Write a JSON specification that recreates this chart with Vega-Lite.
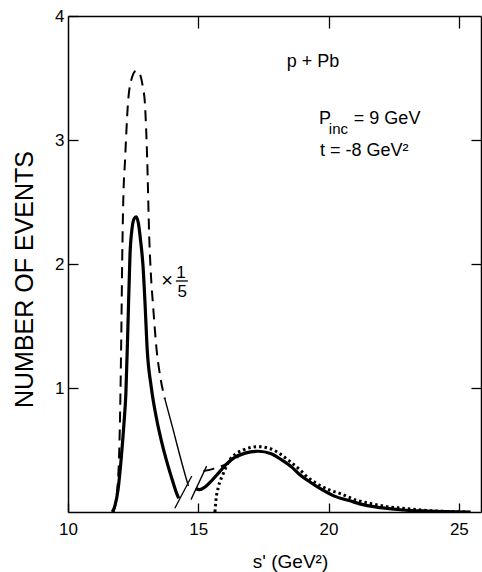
{
  "$schema": "https://vega.github.io/schema/vega-lite/v6.json",
  "width": 413,
  "height": 496,
  "autosize": {"type": "none"},
  "padding": {"left": 68, "top": 16, "right": 1, "bottom": 60},
  "background": "white",
  "config": {
    "view": {"stroke": null},
    "font": "Liberation Sans",
    "axis": {"grid": false, "domainColor": "black", "domainWidth": 1.5, "tickColor": "black", "tickWidth": 1.3, "labelColor": "black", "titleColor": "black", "labelFont": "Liberation Sans", "titleFont": "Liberation Sans", "labelFontWeight": "normal", "titleFontWeight": "normal"}
  },
  "datasets": {
    "curves": [
      {"series": "solid1", "x": 11.70, "y": 0.0},
      {"series": "solid1", "x": 11.80, "y": 0.05},
      {"series": "solid1", "x": 11.92, "y": 0.18},
      {"series": "solid1", "x": 12.05, "y": 0.45},
      {"series": "solid1", "x": 12.15, "y": 0.72},
      {"series": "solid1", "x": 12.22, "y": 0.95},
      {"series": "solid1", "x": 12.30, "y": 1.5},
      {"series": "solid1", "x": 12.38, "y": 2.08},
      {"series": "solid1", "x": 12.46, "y": 2.29},
      {"series": "solid1", "x": 12.55, "y": 2.37},
      {"series": "solid1", "x": 12.62, "y": 2.38},
      {"series": "solid1", "x": 12.70, "y": 2.33},
      {"series": "solid1", "x": 12.78, "y": 2.2},
      {"series": "solid1", "x": 12.88, "y": 1.98},
      {"series": "solid1", "x": 12.95, "y": 1.71},
      {"series": "solid1", "x": 13.04, "y": 1.31},
      {"series": "solid1", "x": 13.20, "y": 1.0},
      {"series": "solid1", "x": 13.40, "y": 0.75},
      {"series": "solid1", "x": 13.60, "y": 0.56},
      {"series": "solid1", "x": 13.80, "y": 0.40},
      {"series": "solid1", "x": 14.00, "y": 0.26},
      {"series": "solid1", "x": 14.17, "y": 0.15},
      {"series": "solid1", "x": 14.25, "y": 0.11},
      {"series": "dash1", "x": 11.75, "y": 0.0},
      {"series": "dash1", "x": 11.92, "y": 0.26},
      {"series": "dash1", "x": 12.00, "y": 0.8},
      {"series": "dash1", "x": 12.05, "y": 1.5},
      {"series": "dash1", "x": 12.08, "y": 2.03},
      {"series": "dash1", "x": 12.12, "y": 2.5},
      {"series": "dash1", "x": 12.19, "y": 2.84},
      {"series": "dash1", "x": 12.31, "y": 3.32},
      {"series": "dash1", "x": 12.45, "y": 3.50},
      {"series": "dash1", "x": 12.62, "y": 3.56},
      {"series": "dash1", "x": 12.76, "y": 3.53},
      {"series": "dash1", "x": 12.87, "y": 3.43},
      {"series": "dash1", "x": 12.95, "y": 3.30},
      {"series": "dash1", "x": 13.04, "y": 2.84},
      {"series": "dash1", "x": 13.12, "y": 2.2},
      {"series": "dash1", "x": 13.18, "y": 1.92},
      {"series": "dash1", "x": 13.27, "y": 1.65},
      {"series": "dash1", "x": 13.40, "y": 1.31},
      {"series": "dash1", "x": 13.55, "y": 1.08},
      {"series": "dash1", "x": 13.72, "y": 0.91},
      {"series": "thin1", "x": 13.72, "y": 0.91},
      {"series": "thin1", "x": 14.04, "y": 0.66},
      {"series": "thin1", "x": 14.30, "y": 0.45},
      {"series": "thin1", "x": 14.55, "y": 0.26},
      {"series": "thin1", "x": 14.62, "y": 0.21},
      {"series": "dash2", "x": 15.20, "y": 0.33},
      {"series": "dash2", "x": 15.60, "y": 0.35},
      {"series": "dash2", "x": 16.10, "y": 0.39},
      {"series": "dash2", "x": 16.40, "y": 0.43},
      {"series": "dash2", "x": 16.70, "y": 0.47},
      {"series": "solid2", "x": 14.90, "y": 0.19},
      {"series": "solid2", "x": 15.05, "y": 0.18},
      {"series": "solid2", "x": 15.25, "y": 0.20},
      {"series": "solid2", "x": 15.50, "y": 0.25},
      {"series": "solid2", "x": 15.80, "y": 0.32},
      {"series": "solid2", "x": 16.10, "y": 0.39},
      {"series": "solid2", "x": 16.40, "y": 0.44},
      {"series": "solid2", "x": 16.80, "y": 0.475},
      {"series": "solid2", "x": 17.30, "y": 0.49},
      {"series": "solid2", "x": 17.80, "y": 0.47},
      {"series": "solid2", "x": 18.20, "y": 0.42},
      {"series": "solid2", "x": 18.60, "y": 0.36},
      {"series": "solid2", "x": 18.90, "y": 0.30},
      {"series": "solid2", "x": 19.30, "y": 0.24},
      {"series": "solid2", "x": 19.67, "y": 0.19},
      {"series": "solid2", "x": 20.20, "y": 0.13},
      {"series": "solid2", "x": 20.82, "y": 0.09},
      {"series": "solid2", "x": 21.40, "y": 0.055},
      {"series": "solid2", "x": 22.00, "y": 0.035},
      {"series": "solid2", "x": 22.85, "y": 0.016},
      {"series": "solid2", "x": 23.80, "y": 0.007},
      {"series": "solid2", "x": 25.40, "y": 0.0},
      {"series": "dot", "x": 15.64, "y": 0.0},
      {"series": "dot", "x": 15.68, "y": 0.1},
      {"series": "dot", "x": 15.77, "y": 0.2},
      {"series": "dot", "x": 15.96, "y": 0.31},
      {"series": "dot", "x": 16.21, "y": 0.42},
      {"series": "dot", "x": 16.45, "y": 0.47},
      {"series": "dot", "x": 16.72, "y": 0.50},
      {"series": "dot", "x": 17.30, "y": 0.527},
      {"series": "dot", "x": 17.70, "y": 0.515},
      {"series": "dot", "x": 18.13, "y": 0.47},
      {"series": "dot", "x": 18.50, "y": 0.41},
      {"series": "dot", "x": 18.90, "y": 0.34},
      {"series": "dot", "x": 19.20, "y": 0.28},
      {"series": "dot", "x": 19.54, "y": 0.23},
      {"series": "dot", "x": 20.00, "y": 0.18},
      {"series": "dot", "x": 20.43, "y": 0.15},
      {"series": "dot", "x": 21.00, "y": 0.10},
      {"series": "dot", "x": 21.58, "y": 0.07},
      {"series": "dot", "x": 22.20, "y": 0.045},
      {"series": "dot", "x": 22.86, "y": 0.03},
      {"series": "dot", "x": 23.80, "y": 0.012},
      {"series": "dot", "x": 24.77, "y": 0.003},
      {"series": "dot", "x": 25.50, "y": 0.0},
      {"series": "slashA", "x": 14.10, "y": 0.03},
      {"series": "slashA", "x": 14.75, "y": 0.29},
      {"series": "slashB", "x": 14.72, "y": 0.10},
      {"series": "slashB", "x": 15.32, "y": 0.37},
      {"series": "fracbar", "x": 14.14, "y": 1.863},
      {"series": "fracbar", "x": 14.60, "y": 1.863}
    ]
  },
  "data": {"name": "curves"},
  "encoding": {
    "x": {"field": "x", "type": "quantitative", "scale": {"domain": [10, 25.85], "nice": false, "zero": false}, "axis": null},
    "y": {"field": "y", "type": "quantitative", "scale": {"domain": [0, 4], "nice": false}, "axis": null}
  },
  "layer": [
    {
      "transform": [{"filter": "datum.series === 'solid1' || datum.series === 'solid2'"}],
      "mark": {"type": "line", "color": "black", "strokeWidth": 3.2, "interpolate": "monotone", "clip": true},
      "encoding": {
        "x": {"field": "x", "type": "quantitative",
          "axis": {"orient": "bottom", "values": [10, 15, 20, 25], "tickSize": -9, "labelPadding": 18, "labelFontSize": 17, "labelFlush": false,
            "title": "s' (GeV²)", "titleFontSize": 19, "titleFontWeight": "normal", "titleX": 222, "titleY": 55, "titleBaseline": "alphabetic"}},
        "y": {"field": "y", "type": "quantitative",
          "axis": {"orient": "left", "values": [1, 2, 3, 4], "tickSize": -10, "labelPadding": 14, "labelFontSize": 17, "labelFlush": false,
            "title": "NUMBER OF EVENTS", "titleFontSize": 25, "titleFontWeight": "normal", "titleX": -36, "titleY": 263, "titleBaseline": "alphabetic"}},
        "detail": {"field": "series"}
      }
    },
    {
      "transform": [{"filter": "datum.series === 'dash1' || datum.series === 'dash2'"}],
      "mark": {"type": "line", "color": "black", "strokeWidth": 2, "strokeDash": [11, 7], "interpolate": "monotone"},
      "encoding": {"detail": {"field": "series"}}
    },
    {
      "transform": [{"filter": "datum.series === 'thin1'"}],
      "mark": {"type": "line", "color": "black", "strokeWidth": 1.4, "interpolate": "monotone"},
      "encoding": {}
    },
    {
      "transform": [{"filter": "datum.series === 'dot'"}],
      "mark": {"type": "line", "color": "black", "strokeWidth": 3, "strokeDash": [2.5, 3], "interpolate": "monotone", "clip": true},
      "encoding": {}
    },
    {
      "transform": [{"filter": "datum.series === 'slashA' || datum.series === 'slashB' || datum.series === 'fracbar'"}],
      "mark": {"type": "line", "color": "black", "strokeWidth": 1.3},
      "encoding": {"detail": {"field": "series"}}
    },
    {
      "data": {"values": [
        {"label": "p + Pb", "x": 19.40, "y": 3.589}
      ]},
      "mark": {"type": "text", "align": "center", "baseline": "alphabetic", "fontSize": 18, "font": "Liberation Sans", "color": "black"},
      "encoding": {"text": {"field": "label"}}
    },
    {
      "data": {"values": [
        {"label": "P", "x": 19.63, "y": 3.129},
        {"label": "= 9 GeV", "x": 20.97, "y": 3.129},
        {"label": "t = -8 GeV²", "x": 19.67, "y": 2.871}
      ]},
      "mark": {"type": "text", "align": "left", "baseline": "alphabetic", "fontSize": 18, "font": "Liberation Sans", "color": "black"},
      "encoding": {"text": {"field": "label"}}
    },
    {
      "data": {"values": [
        {"label": "inc", "x": 20.01, "y": 3.048}
      ]},
      "mark": {"type": "text", "align": "left", "baseline": "alphabetic", "fontSize": 15, "font": "Liberation Sans", "color": "black"},
      "encoding": {"text": {"field": "label"}}
    },
    {
      "data": {"values": [
        {"label": "×", "x": 13.80, "y": 1.863}
      ]},
      "mark": {"type": "text", "align": "center", "baseline": "middle", "fontSize": 20, "font": "Liberation Sans", "color": "black"},
      "encoding": {"text": {"field": "label"}}
    },
    {
      "data": {"values": [
        {"label": "1", "x": 14.34, "y": 1.885},
        {"label": "5", "x": 14.38, "y": 1.734}
      ]},
      "mark": {"type": "text", "align": "center", "baseline": "alphabetic", "fontSize": 17, "font": "Liberation Sans", "color": "black"},
      "encoding": {"text": {"field": "label"}}
    },
    {
      "mark": {"type": "rule", "opacity": 0},
      "encoding": {
        "x": {"field": "x", "type": "quantitative",
          "axis": {"orient": "top", "values": [15, 20, 25], "tickSize": -12, "labels": false, "title": null}},
        "y": {"field": "y", "type": "quantitative",
          "axis": {"orient": "right", "values": [1, 2, 3], "tickSize": -10, "labels": false, "title": null}}
      }
    }
  ],
  "resolve": {"axis": {"x": "independent", "y": "independent"}}
}
